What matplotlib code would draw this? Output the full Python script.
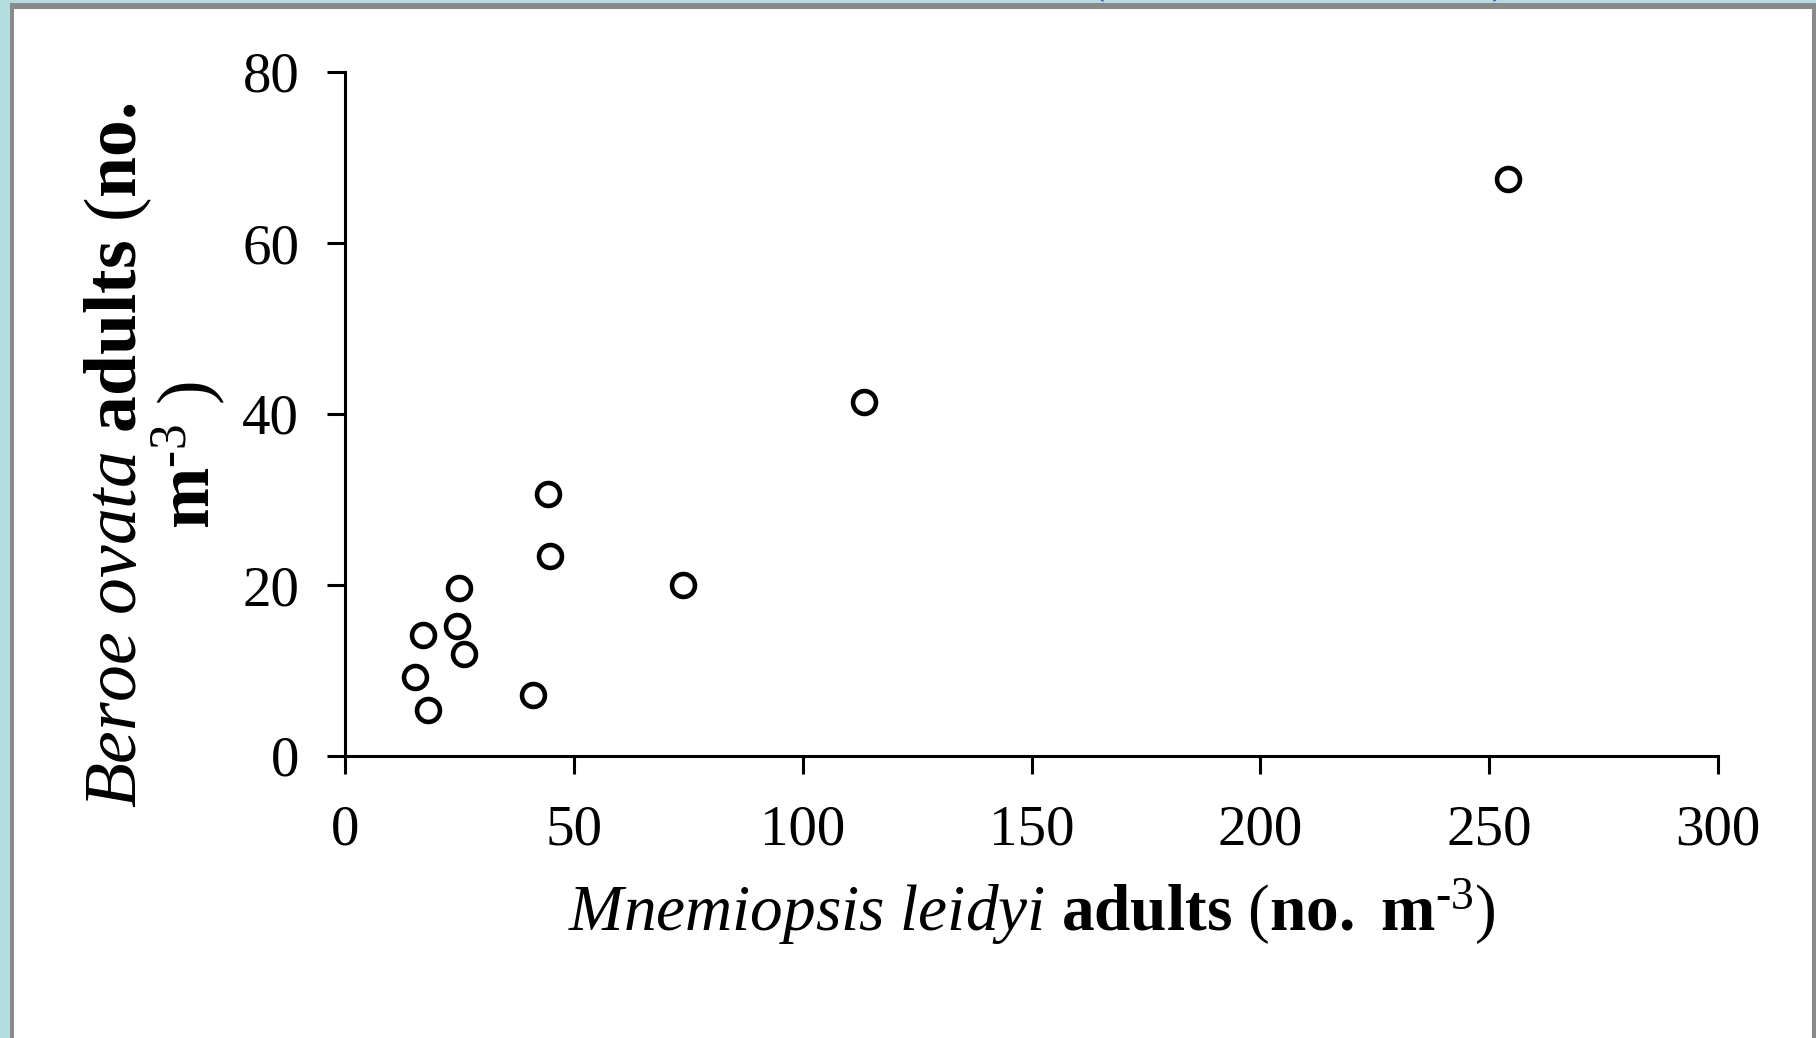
import matplotlib
matplotlib.use("Agg")
import matplotlib.pyplot as plt
from matplotlib.patches import Rectangle

plt.rcParams['font.family'] = ['Liberation Serif', 'DejaVu Serif']
plt.rcParams['mathtext.fontset'] = 'custom'
plt.rcParams['mathtext.rm'] = 'Liberation Serif'
plt.rcParams['mathtext.it'] = 'Liberation Serif:italic'
plt.rcParams['mathtext.bf'] = 'Liberation Serif:bold'

# adults per m^3
mnemiopsis = [254.2, 113.3, 44.3, 44.9, 73.9, 25.0, 24.5, 17.0, 26.1, 15.4, 41.0, 18.2]
beroe = [67.5, 41.4, 30.7, 23.4, 20.0, 19.6, 15.2, 14.2, 11.9, 9.2, 7.1, 5.4]

x_ticks = [0, 50, 100, 150, 200, 250, 300]
y_ticks = [0, 20, 40, 60, 80]

fig = plt.figure(figsize=(18.16, 10.38), dpi=100)
fig.patch.set_facecolor('#b4dde0')

# slide-like panel
fig.patches.append(Rectangle((10 / 1816, 0), 1806 / 1816, 1 - 3 / 1038,
                             transform=fig.transFigure, facecolor='#8a8a8a',
                             edgecolor='none', zorder=-10))
fig.patches.append(Rectangle((14 / 1816, 0), 1798 / 1816, 1 - 9 / 1038,
                             transform=fig.transFigure, facecolor='white',
                             edgecolor='none', zorder=-9))

# citation of the slide, almost all above the visible area
fig.text(1088 / 1816, 1 - 2 / 1038, '(Purcell et al., 2001)', color='#3333cc',
         fontsize=37, ha='left', va='bottom', zorder=-11)

ax = fig.add_axes([345 / 1816, 1 - 756 / 1038, (1718 - 345) / 1816, (756 - 72) / 1038])
ax.set_zorder(5)
ax.set_facecolor('none')
ax.plot(mnemiopsis, beroe, 'o', ms=16.5, mfc='white', mec='black', mew=3.3, clip_on=False)

ax.set_xlim(0, 300)
ax.set_ylim(0, 80)
ax.set_xticks(x_ticks)
ax.set_yticks(y_ticks)
for s in ['top', 'right']:
    ax.spines[s].set_visible(False)
for s in ['left', 'bottom']:
    ax.spines[s].set_linewidth(2.2)
ax.tick_params(length=13, width=2.2, labelsize=41)
ax.tick_params(axis='x', pad=22)
ax.tick_params(axis='y', pad=20)

ax.set_xlabel(r'$\mathit{Mnemiopsis\ leidyi}$ $\mathbf{adults}$ ($\mathbf{no.}$ $\mathbf{m}^{\text{-3}}$)',
              fontsize=47, labelpad=14)
fig.text(155 / 1816, 1 - 455 / 1038,
         r'$\mathit{Beroe\ ovata}$ $\mathbf{adults}$ ($\mathbf{no.}$' + '\n'
         + r'$\mathbf{m}^{\text{-3}}$ )',
         fontsize=53, rotation=90, ha='center', va='center', linespacing=0.92,
         multialignment='center')

fig.savefig('out.png', dpi=100, facecolor=fig.get_facecolor())
